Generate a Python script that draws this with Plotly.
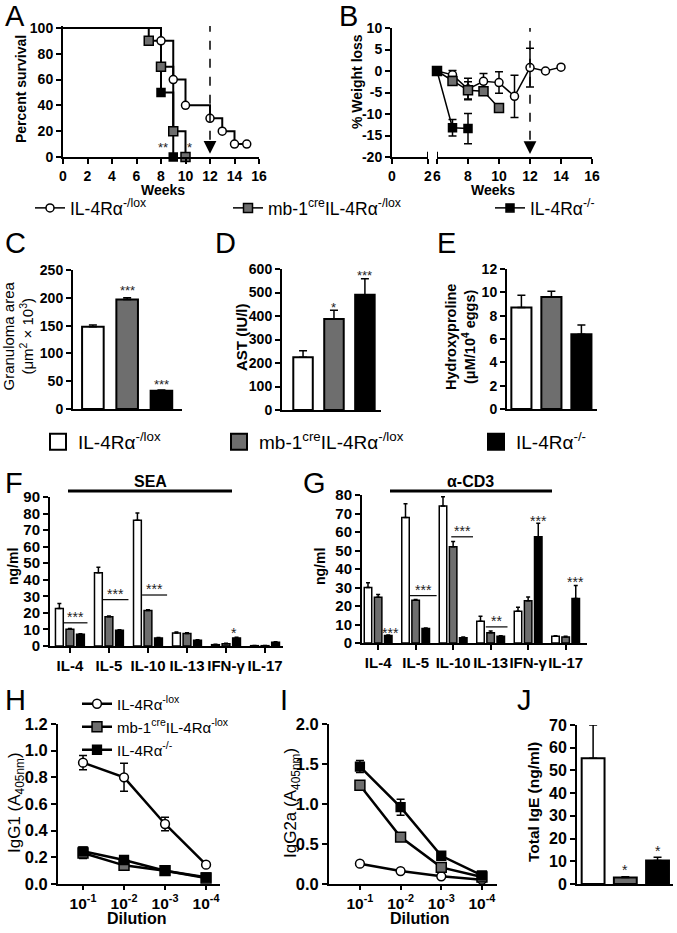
import plotly.graph_objects as go

FONT = "Liberation Sans, Arial, sans-serif"
W, H = 677, 933
WHITE, GREY, BLACK = "#ffffff", "#6e6e6e", "#000000"

# ---------------- data ----------------
groups_top = ["IL-4Rα<sup>-/lox</sup>", "mb-1<sup>cre</sup>IL-4Rα<sup>-/lox</sup>", "IL-4Rα<sup>-/-</sup>"]
groups_h = ["IL-4Rα<sup>-lox</sup>", "mb-1<sup>cre</sup>IL-4Rα<sup>-lox</sup>", "IL-4Rα<sup>-/-</sup>"]
group_keys = ["lox", "mb1", "ko"]

# A: survival
surv_weeks = {"lox": [0, 8, 9, 10, 12, 13, 14, 15], "mb1": [0, 7, 8, 9, 10], "ko": [0, 8, 9]}
surv_pct = {"lox": [100, 90, 60, 40, 30, 20, 10, 10], "mb1": [100, 90, 70, 20, 0], "ko": [100, 50, 0]}
infection_week = 12

# B: weight loss
wl_weeks = {"lox": [6, 7, 8, 9, 10, 11, 12, 13, 14], "mb1": [6, 7, 8, 9, 10], "ko": [6, 7, 8]}
wl_vals = {"lox": [0, -0.9, -4.2, -2.4, -2.7, -5.9, 0.8, 0.0, 0.9],
           "mb1": [0, -2.3, -4.5, -4.7, -8.6],
           "ko": [0, -13.2, -13.4]}
wl_err = {"lox": [0.3, 1.0, 2.5, 1.8, 2.5, 4.9, 4.5, 0.3, 0.3],
          "mb1": [0.3, 1.0, 2.0, 0.4, 0.4],
          "ko": [0.3, 1.9, 3.5]}

# C, D, E
granuloma = [148, 197, 33]
granuloma_err = [3, 3, 1]
ast = [225, 387, 490]
ast_err = [27, 37, 69]
hydroxyproline = [8.7, 9.6, 6.4]
hydroxyproline_err = [1.05, 0.5, 0.8]

# F, G
cytokines = ["IL-4", "IL-5", "IL-10", "IL-13", "IFN-γ", "IL-17"]
sea = {"lox": [22.7, 44.3, 75.9, 7.9, 0.8, 0.2],
       "mb1": [10.1, 17.6, 21.5, 7.5, 1.4, 0.2],
       "ko": [7.1, 9.5, 4.9, 3.4, 4.9, 2.2]}
sea_err = {"lox": [3.0, 3.2, 4.5, 0.6, 0.2, 0.1],
           "mb1": [0.5, 0.5, 0.4, 0.5, 0.2, 0.1],
           "ko": [0.3, 0.3, 0.3, 0.3, 0.4, 0.3]}
cd3 = {"lox": [30.0, 67.9, 74.0, 11.7, 17.2, 3.6],
       "mb1": [24.7, 23.1, 52.0, 5.6, 22.8, 3.3],
       "ko": [4.0, 7.8, 2.9, 3.6, 57.4, 24.0]}
cd3_err = {"lox": [2.5, 7.4, 5.1, 2.7, 2.1, 0.3],
           "mb1": [1.5, 0.4, 2.9, 0.9, 2.1, 0.3],
           "ko": [0.3, 0.3, 0.3, 0.3, 7.3, 7.1]}

# H, I
dilutions = [1e-1, 1e-2, 1e-3, 1e-4]
dilution_labels = ["10<sup>-1</sup>", "10<sup>-2</sup>", "10<sup>-3</sup>", "10<sup>-4</sup>"]
igg1 = {"lox": [0.91, 0.80, 0.45, 0.145], "mb1": [0.232, 0.14, 0.10, 0.045], "ko": [0.245, 0.18, 0.10, 0.05]}
igg1_err = {"lox": [0.053, 0.105, 0.05, 0.01], "mb1": [0.04, 0.02, 0.01, 0.01], "ko": [0.03, 0.02, 0.01, 0.01]}
igg2a = {"lox": [0.254, 0.162, 0.096, 0.054], "mb1": [1.235, 0.586, 0.208, 0.087], "ko": [1.468, 0.96, 0.353, 0.108]}
igg2a_err = {"lox": [0.01, 0.01, 0.01, 0.01], "mb1": [0.04, 0.02, 0.02, 0.01], "ko": [0.075, 0.1, 0.03, 0.01]}

# J
ige = [55.4, 2.9, 10.3]
ige_err = [14.6, 0.3, 1.5]

# significance marks: (x, y, text)
sig_A = [(8.15, 9.3, "**"), (10.3, 9.3, "*")]
sig_C = [(1, 219, "***"), (2, 48.6, "***")]
sig_D = [(1, 447, "*"), (2, 583, "***")]
sig_F_lines = [(-0.17, 0.45, 14.0, "***"), (0.84, 1.5, 28.0, "***"), (1.85, 2.49, 30.8, "***")]
sig_F_pts = [(4.2, 9.5, "*")]
sig_G_lines = [(0.84, 1.56, 25.6, "***"), (1.95, 2.53, 57.4, "***"), (2.87, 3.45, 8.7, "**")]
sig_G_pts = [(0.32, 7.2, "***"), (4.27, 67.7, "***"), (5.27, 34.7, "***")]
sig_J = [(1, 7.5, "*"), (2, 15.8, "*")]

# ---------------- styles ----------------
fill = {"lox": WHITE, "mb1": GREY, "ko": BLACK}
sym = {"lox": "circle", "mb1": "square", "ko": "square"}
msize = {"lox": 8, "mb1": 9, "ko": 8}


def mk(g, scale=1.0):
    return dict(symbol=sym[g], color=fill[g], size=msize[g] * scale, line=dict(color="black", width=1.5))


def dom_x(a, b):
    return [a / W, b / W]


def dom_y(top, bottom):
    return [1 - bottom / H, 1 - top / H]


def tf(size=14, bold=True):
    return dict(family=FONT, size=size, color="black", weight="bold" if bold else "normal")


def ax(**kw):
    base = dict(showline=True, linecolor="black", linewidth=2, ticks="outside", ticklen=5, tickwidth=2,
                tickcolor="black", showgrid=False, zeroline=False, tickfont=tf(14), fixedrange=True, tickangle=0)
    base.update(kw)
    return base


fig = go.Figure()

# ---- A ----
for g in group_keys:
    fig.add_trace(go.Scatter(x=surv_weeks[g], y=surv_pct[g], mode="lines", line=dict(color="black", width=2, shape="hv"),
                             xaxis="x", yaxis="y", showlegend=False, hoverinfo="skip"))
for g in group_keys:
    fig.add_trace(go.Scatter(x=surv_weeks[g][1:], y=surv_pct[g][1:], mode="markers", marker=mk(g),
                             xaxis="x", yaxis="y", showlegend=False, cliponaxis=False))

# ---- B ----
leg_row1 = {"lox": "legend", "mb1": "legend2", "ko": "legend3"}
for i, g in enumerate(group_keys):
    fig.add_trace(go.Scatter(x=wl_weeks[g], y=wl_vals[g], mode="lines+markers",
                             error_y=dict(type="data", array=wl_err[g], color="black", thickness=1.5, width=4),
                             line=dict(color="black", width=1.5), marker=mk(g),
                             xaxis="x3", yaxis="y2", cliponaxis=False, name=groups_top[i],
                             legend=leg_row1[g], showlegend=True))

# ---- C, D, E, J ----
def bar3(vals, errs, xa, ya, width):
    fig.add_trace(go.Bar(x=group_keys, y=vals, width=width,
                         marker=dict(color=[fill[g] for g in group_keys], line=dict(color="black", width=2)),
                         error_y=dict(type="data", symmetric=False, array=errs, arrayminus=[0, 0, 0],
                                      color="black", thickness=1.5, width=4),
                         xaxis=xa, yaxis=ya, showlegend=False))

bar3(granuloma, granuloma_err, "x4", "y4", 0.63)
bar3(ast, ast_err, "x5", "y5", 0.63)
bar3(hydroxyproline, hydroxyproline_err, "x6", "y6", 0.67)
bar3(ige, ige_err, "x11", "y11", 0.71)

# legend row 2 (swatches)
leg_row2 = {"lox": "legend4", "mb1": "legend5", "ko": "legend6"}
for i, g in enumerate(group_keys):
    fig.add_trace(go.Scatter(x=[None], y=[None], mode="markers",
                             marker=dict(symbol="square", size=16, color=fill[g], line=dict(color="black", width=2)),
                             xaxis="x4", yaxis="y4", name=groups_top[i], legend=leg_row2[g], showlegend=True))

# ---- F, G ----
offs = {"lox": -0.37, "mb1": -0.1, "ko": 0.17}
for data, err, xa, ya in [(sea, sea_err, "x7", "y7"), (cd3, cd3_err, "x8", "y8")]:
    for g in group_keys:
        fig.add_trace(go.Bar(x=cytokines, y=data[g], width=0.2, offset=offs[g],
                             marker=dict(color=fill[g], line=dict(color="black", width=1.5)),
                             error_y=dict(type="data", symmetric=False, array=err[g], arrayminus=[0] * 6,
                                          color="black", thickness=1.5, width=2),
                             xaxis=xa, yaxis=ya, showlegend=False))

# ---- H, I ----
leg_h = {"lox": "legend7", "mb1": "legend8", "ko": "legend9"}
for data, err, xa, ya, show in [(igg1, igg1_err, "x9", "y9", True), (igg2a, igg2a_err, "x10", "y10", False)]:
    for i, g in enumerate(group_keys):
        fig.add_trace(go.Scatter(x=dilutions, y=data[g], mode="lines+markers",
                                 error_y=dict(type="data", array=err[g], color="black", thickness=1.5, width=4),
                                 line=dict(color="black", width=2.5), marker=mk(g, 1.1),
                                 xaxis=xa, yaxis=ya, cliponaxis=False, name=groups_h[i],
                                 legend=leg_h[g], showlegend=show))

# ---------------- layout ----------------
layout = dict(
    width=W, height=H, margin=dict(l=0, r=0, t=0, b=0, autoexpand=False), paper_bgcolor="white",
    plot_bgcolor="white", barmode="overlay", font=dict(family=FONT, color="black"), hovermode=False,
    xaxis=ax(domain=dom_x(63, 259), range=[0, 16], tickvals=list(range(0, 17, 2)), anchor="y"),
    yaxis=ax(domain=dom_y(26, 157), range=[0, 101.5], tickvals=[0, 20, 40, 60, 80, 100], anchor="x"),
    xaxis2=ax(domain=dom_x(392, 428), range=[0, 2], tickvals=[0, 2], anchor="y2"),
    yaxis2=ax(domain=dom_y(28, 157), range=[-20, 10], tickvals=[-20, -15, -10, -5, 0, 5, 10],
              ticktext=["-20", "-15", "-10", "-5", "0", "5", "10"], anchor="x2"),
    xaxis3=ax(domain=dom_x(437, 592), range=[6, 16], tickvals=[6, 8, 10, 12, 14, 16], anchor="y2"),
    xaxis4=ax(domain=dom_x(73, 182), range=[-0.58, 2.6], ticks="", showticklabels=False, anchor="y4"),
    yaxis4=ax(domain=dom_y(270, 409), range=[0, 250], dtick=50, anchor="x4"),
    xaxis5=ax(domain=dom_x(282, 381), range=[-0.68, 2.52], ticks="", showticklabels=False, anchor="y5"),
    yaxis5=ax(domain=dom_y(269, 410), range=[0, 600], dtick=100, anchor="x5"),
    xaxis6=ax(domain=dom_x(507, 597), range=[-0.48, 2.52], ticks="", showticklabels=False, anchor="y6"),
    yaxis6=ax(domain=dom_y(269, 409), range=[0, 12], dtick=2, anchor="x6"),
    xaxis7=ax(domain=dom_x(50, 283), range=[-0.51, 5.46], tickfont=tf(15), anchor="y7"),
    yaxis7=ax(domain=dom_y(497, 646), range=[0, 90], dtick=10, tickfont=tf(15), anchor="x7"),
    xaxis8=ax(domain=dom_x(362, 587), range=[-0.43, 5.57], tickfont=tf(15), anchor="y8"),
    yaxis8=ax(domain=dom_y(495, 643), range=[0, 80], dtick=10, tickfont=tf(15), anchor="x8"),
    xaxis9=ax(domain=dom_x(58, 220), type="log", range=[-0.39, -4.34], tickvals=dilutions, ticklen=4,
              ticktext=dilution_labels, tickfont=tf(15.5), anchor="y9"),
    yaxis9=ax(domain=dom_y(724, 884), range=[0, 1.2], dtick=0.2, tickformat=".1f", tickfont=tf(16.5), anchor="x9"),
    xaxis10=ax(domain=dom_x(329, 497), type="log", range=[-0.24, -4.37], tickvals=dilutions, ticklen=4,
               ticktext=dilution_labels, tickfont=tf(15.5), anchor="y10"),
    yaxis10=ax(domain=dom_y(724, 884), range=[0, 2], dtick=0.5, tickformat=".1f", tickfont=tf(16.5), anchor="x10"),
    xaxis11=ax(domain=dom_x(577, 673), range=[-0.5, 2.48], ticks="", showticklabels=False, anchor="y11"),
    yaxis11=ax(domain=dom_y(725, 884), range=[0, 70], dtick=10, tickfont=tf(16), anchor="x11"),
)


def leg(xpx, ypx, size):
    return dict(x=xpx / W, y=1 - ypx / H, xanchor="left", yanchor="middle", bgcolor="rgba(0,0,0,0)",
                borderwidth=0, font=dict(family=FONT, size=size, color="black"), orientation="v",
                itemclick=False, itemdoubleclick=False, tracegroupgap=0)


layout["legend"] = leg(30, 208, 17.5)
layout["legend2"] = leg(228, 208, 17.5)
layout["legend3"] = leg(490, 208, 17.5)
layout["legend4"] = leg(38, 442, 19)
layout["legend5"] = leg(219, 442, 19)
layout["legend6"] = leg(476, 442, 19)
layout["legend7"] = leg(77, 704, 15)
layout["legend8"] = leg(77, 727, 15)
layout["legend9"] = leg(77, 750, 15)

fig.update_layout(**layout)

annotations = []
shapes = []


def ann(xpx, ypx, text, size, bold=False, angle=0, xanchor="center", yanchor="middle"):
    annotations.append(dict(x=xpx / W, y=1 - ypx / H, xref="paper", yref="paper", text=text, showarrow=False,
                            textangle=angle, xanchor=xanchor, yanchor=yanchor,
                            font=dict(family=FONT, size=size, color="black", weight="bold" if bold else "normal")))


# panel letters
for letter, xp, yp in [("A", 3, 16), ("B", 337, 16), ("C", 3, 243), ("D", 213, 243), ("E", 435, 243),
                       ("F", 3, 483), ("G", 301, 483), ("H", 3, 700), ("I", 278, 700), ("J", 515, 700)]:
    ann(xp, yp, letter, 29, xanchor="left")

# axis titles
ann(21, 89, "Percent survival", 14, True, -90)
ann(163, 190, "Weeks", 14, True)
ann(357, 82, "% Weight loss", 14, True, -90)
ann(493, 190, "Weeks", 14, True)
ann(18.5, 336, "Granuloma area<br>(μm<sup>2</sup> × 10<sup>3</sup>)", 15, False, -90)
ann(241, 337, "AST (IU/l)", 15, True, -90)
ann(460, 337, "Hydroxyproline<br>(μM/10<sup>4</sup> eggs)", 14.5, True, -90)
ann(13, 567, "ng/ml", 14, True, -90)
ann(320, 567, "ng/ml", 14, True, -90)
ann(16, 803, "IgG1 (A<sub>405nm</sub>)", 17, False, -90)
ann(137, 918, "Dilution", 16, True)
ann(292, 803, "IgG2a (A<sub>405nm</sub>)", 17, False, -90)
ann(420, 918, "Dilution", 16, True)
ann(533, 802, "Total IgE (ng/ml)", 15.5, True, -90)
ann(150, 481, "SEA", 16, True)
ann(470, 481, "α-CD3", 16, True)
shapes.append(dict(type="line", xref="paper", yref="paper", x0=68 / W, x1=232 / W, y0=1 - 491 / H, y1=1 - 491 / H,
                   line=dict(color="black", width=3)))
shapes.append(dict(type="line", xref="paper", yref="paper", x0=390 / W, x1=552 / W, y0=1 - 491 / H, y1=1 - 491 / H,
                   line=dict(color="black", width=3)))


def star(x, y, text, xa, ya, size=13):
    annotations.append(dict(x=x, y=y, xref=xa, yref=ya, text=text, showarrow=False, yanchor="middle", yshift=-3,
                            font=dict(family=FONT, size=size, color="#222")))


for x, y, t in sig_A:
    star(x, y, t, "x", "y")
for x, y, t in sig_C:
    star(x, y, t, "x4", "y4")
for x, y, t in sig_D:
    star(x, y, t, "x5", "y5")
for x, y, t in sig_J:
    star(x, y, t, "x11", "y11", 14)
for lines, pts, xa, ya in [(sig_F_lines, sig_F_pts, "x7", "y7"), (sig_G_lines, sig_G_pts, "x8", "y8")]:
    for x0, x1, y, t in lines:
        shapes.append(dict(type="line", xref=xa, yref=ya, x0=x0, x1=x1, y0=y, y1=y, line=dict(color="black", width=1.2)))
        annotations.append(dict(x=(x0 + x1) / 2, y=y, xref=xa, yref=ya, text=t, showarrow=False, yanchor="bottom",
                                yshift=-4, font=dict(family=FONT, size=14, color="#222")))
    for x, y, t in pts:
        star(x, y, t, xa, ya, 14)

# infection arrows (dashed line + arrow head)
shapes.append(dict(type="line", xref="x", yref="y", x0=infection_week, x1=infection_week, y0=104, y1=8,
                   line=dict(color="black", width=1.5, dash="dash")))
annotations.append(dict(x=infection_week, y=2.5, ax=infection_week, ay=9, xref="x", yref="y", axref="x", ayref="y",
                        text="", showarrow=True, arrowhead=2, arrowsize=1.6, arrowwidth=1.6, arrowcolor="black"))
shapes.append(dict(type="line", xref="x3", yref="y2", x0=infection_week, x1=infection_week, y0=11.2, y1=-17,
                   line=dict(color="black", width=1.5, dash="dash")))
annotations.append(dict(x=infection_week, y=-19.3, ax=infection_week, ay=-17, xref="x3", yref="y2", axref="x3",
                        ayref="y2", text="", showarrow=True, arrowhead=2, arrowsize=1.6, arrowwidth=1.6,
                        arrowcolor="black"))
# axis break marks in B
for xa, xv in [("x2", 2), ("x3", 6)]:
    shapes.append(dict(type="line", xref=xa, yref="y2", x0=xv, x1=xv, y0=-20, y1=-18.8,
                       line=dict(color="black", width=2)))

fig.update_layout(annotations=annotations, shapes=shapes)
fig.write_html("out.html", config={"displayModeBar": False},
               post_script="document.body.style.margin='0px';document.body.style.overflow='hidden';")
